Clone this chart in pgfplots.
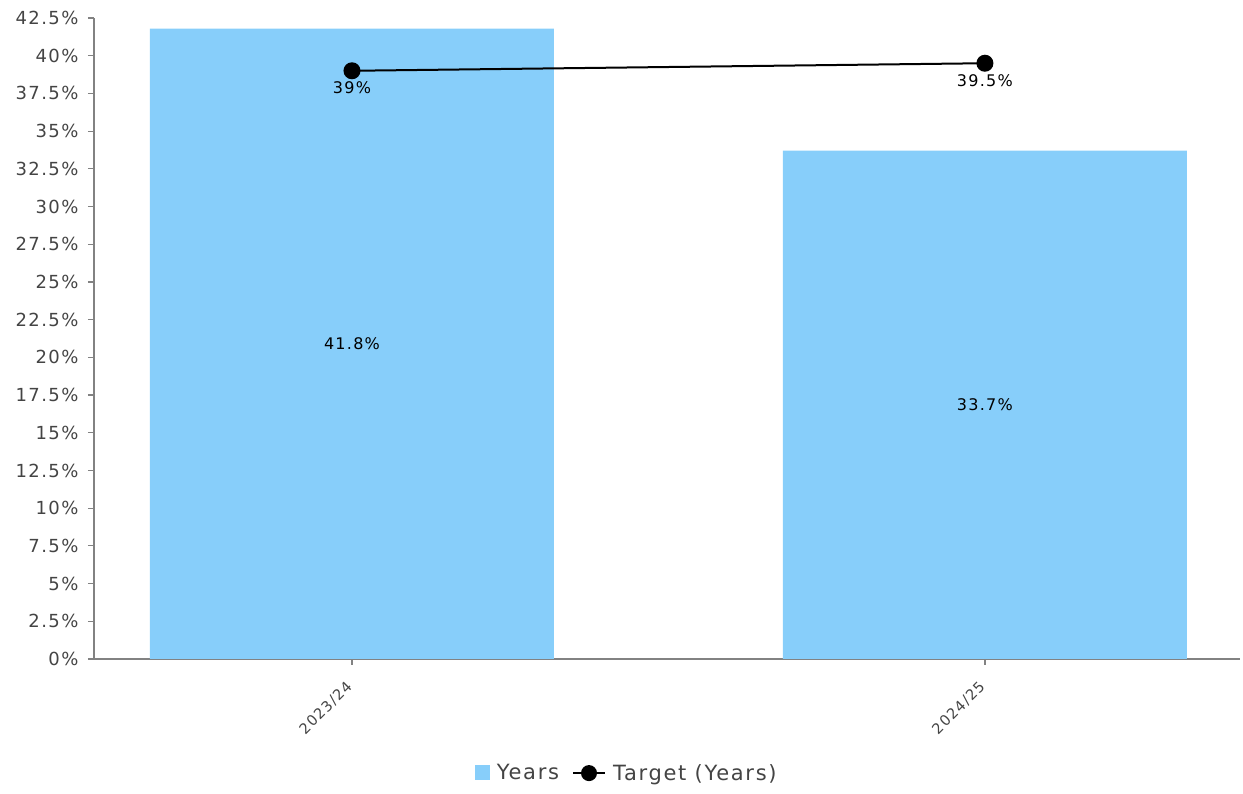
\documentclass[border=0pt]{standalone}
\usepackage{fontspec}
\setmainfont{DejaVu Sans}[LetterSpace=8]
\usepackage{pgfplots}
\pgfplotsset{compat=1.18}
\definecolor{barblue}{RGB}{135,206,250}
\definecolor{axgray}{RGB}{130,130,130}
\definecolor{txtgray}{RGB}{68,68,68}
\begin{document}
\begin{tikzpicture}
\begin{axis}[
  name=ax,
  scale only axis,
  width=1146pt, height=641pt,
  xmin=-0.4076, xmax=1.403,
  ymin=0, ymax=42.5,
  axis x line*=bottom, axis y line*=left,
  axis line style={axgray, line width=1.2pt},
  tick style={axgray, line width=1.2pt},
  tick align=outside,
  major tick length=6pt,
  xtick={0,1}, xticklabels={2023/24,2024/25},
  ytick={0,2.5,...,42.5},
  yticklabel={\pgfmathprintnumber[fixed,precision=1]{\tick}\%},
  /pgf/number format/assume math mode=true,
  ticklabel style={font=\fontsize{18}{20}\selectfont, text=txtgray},
  y tick label style={xshift=-6pt},
  x tick label style={yshift=-17pt, rotate=45, anchor=east, font=\fontsize{14.5}{17}\selectfont},
  legend style={at={(0.464,-0.178)}, anchor=center, draw=none, legend columns=-1,
    font=\fontsize{21}{23}\selectfont, text=txtgray,
    nodes={inner xsep=0pt},
    /tikz/every odd column/.append style={column sep=7pt},
    /tikz/every even column/.append style={column sep=13pt}},
  clip=false,
]
\addplot[ybar, bar width=404pt, fill=barblue, draw=none,
  legend image code/.code={\fill[barblue] (0pt,-7pt) rectangle (15pt,8pt);}]
  coordinates {(0,41.8) (1,33.7)};
\addlegendentry{Years}
\addplot[black, line width=2pt, mark=*, mark size=7.5pt,
  nodes near coords, point meta=explicit symbolic,
  every node near coord/.style={anchor=north, yshift=-7pt, text=black, font=\fontsize{16}{18}\selectfont},
  legend image code/.code={\draw[black, line width=2pt] (0pt,0pt) -- (32pt,0pt); \fill[black] (16pt,0pt) circle (7pt);}]
  coordinates {(0,39)[39\%] (1,39.5)[39.5\%]};
\addlegendentry{Target (Years)}
\addplot[draw=none, mark=none, forget plot,
  nodes near coords, point meta=explicit symbolic,
  every node near coord/.style={anchor=center, text=black, font=\fontsize{16}{18}\selectfont}]
  coordinates {(0,20.9)[41.8\%] (1,16.85)[33.7\%]};
\end{axis}
\pgfresetboundingbox
\path (ax.south west) ++(-94pt,-135pt) rectangle ++(1243pt,794pt);
\end{tikzpicture}
\end{document}
